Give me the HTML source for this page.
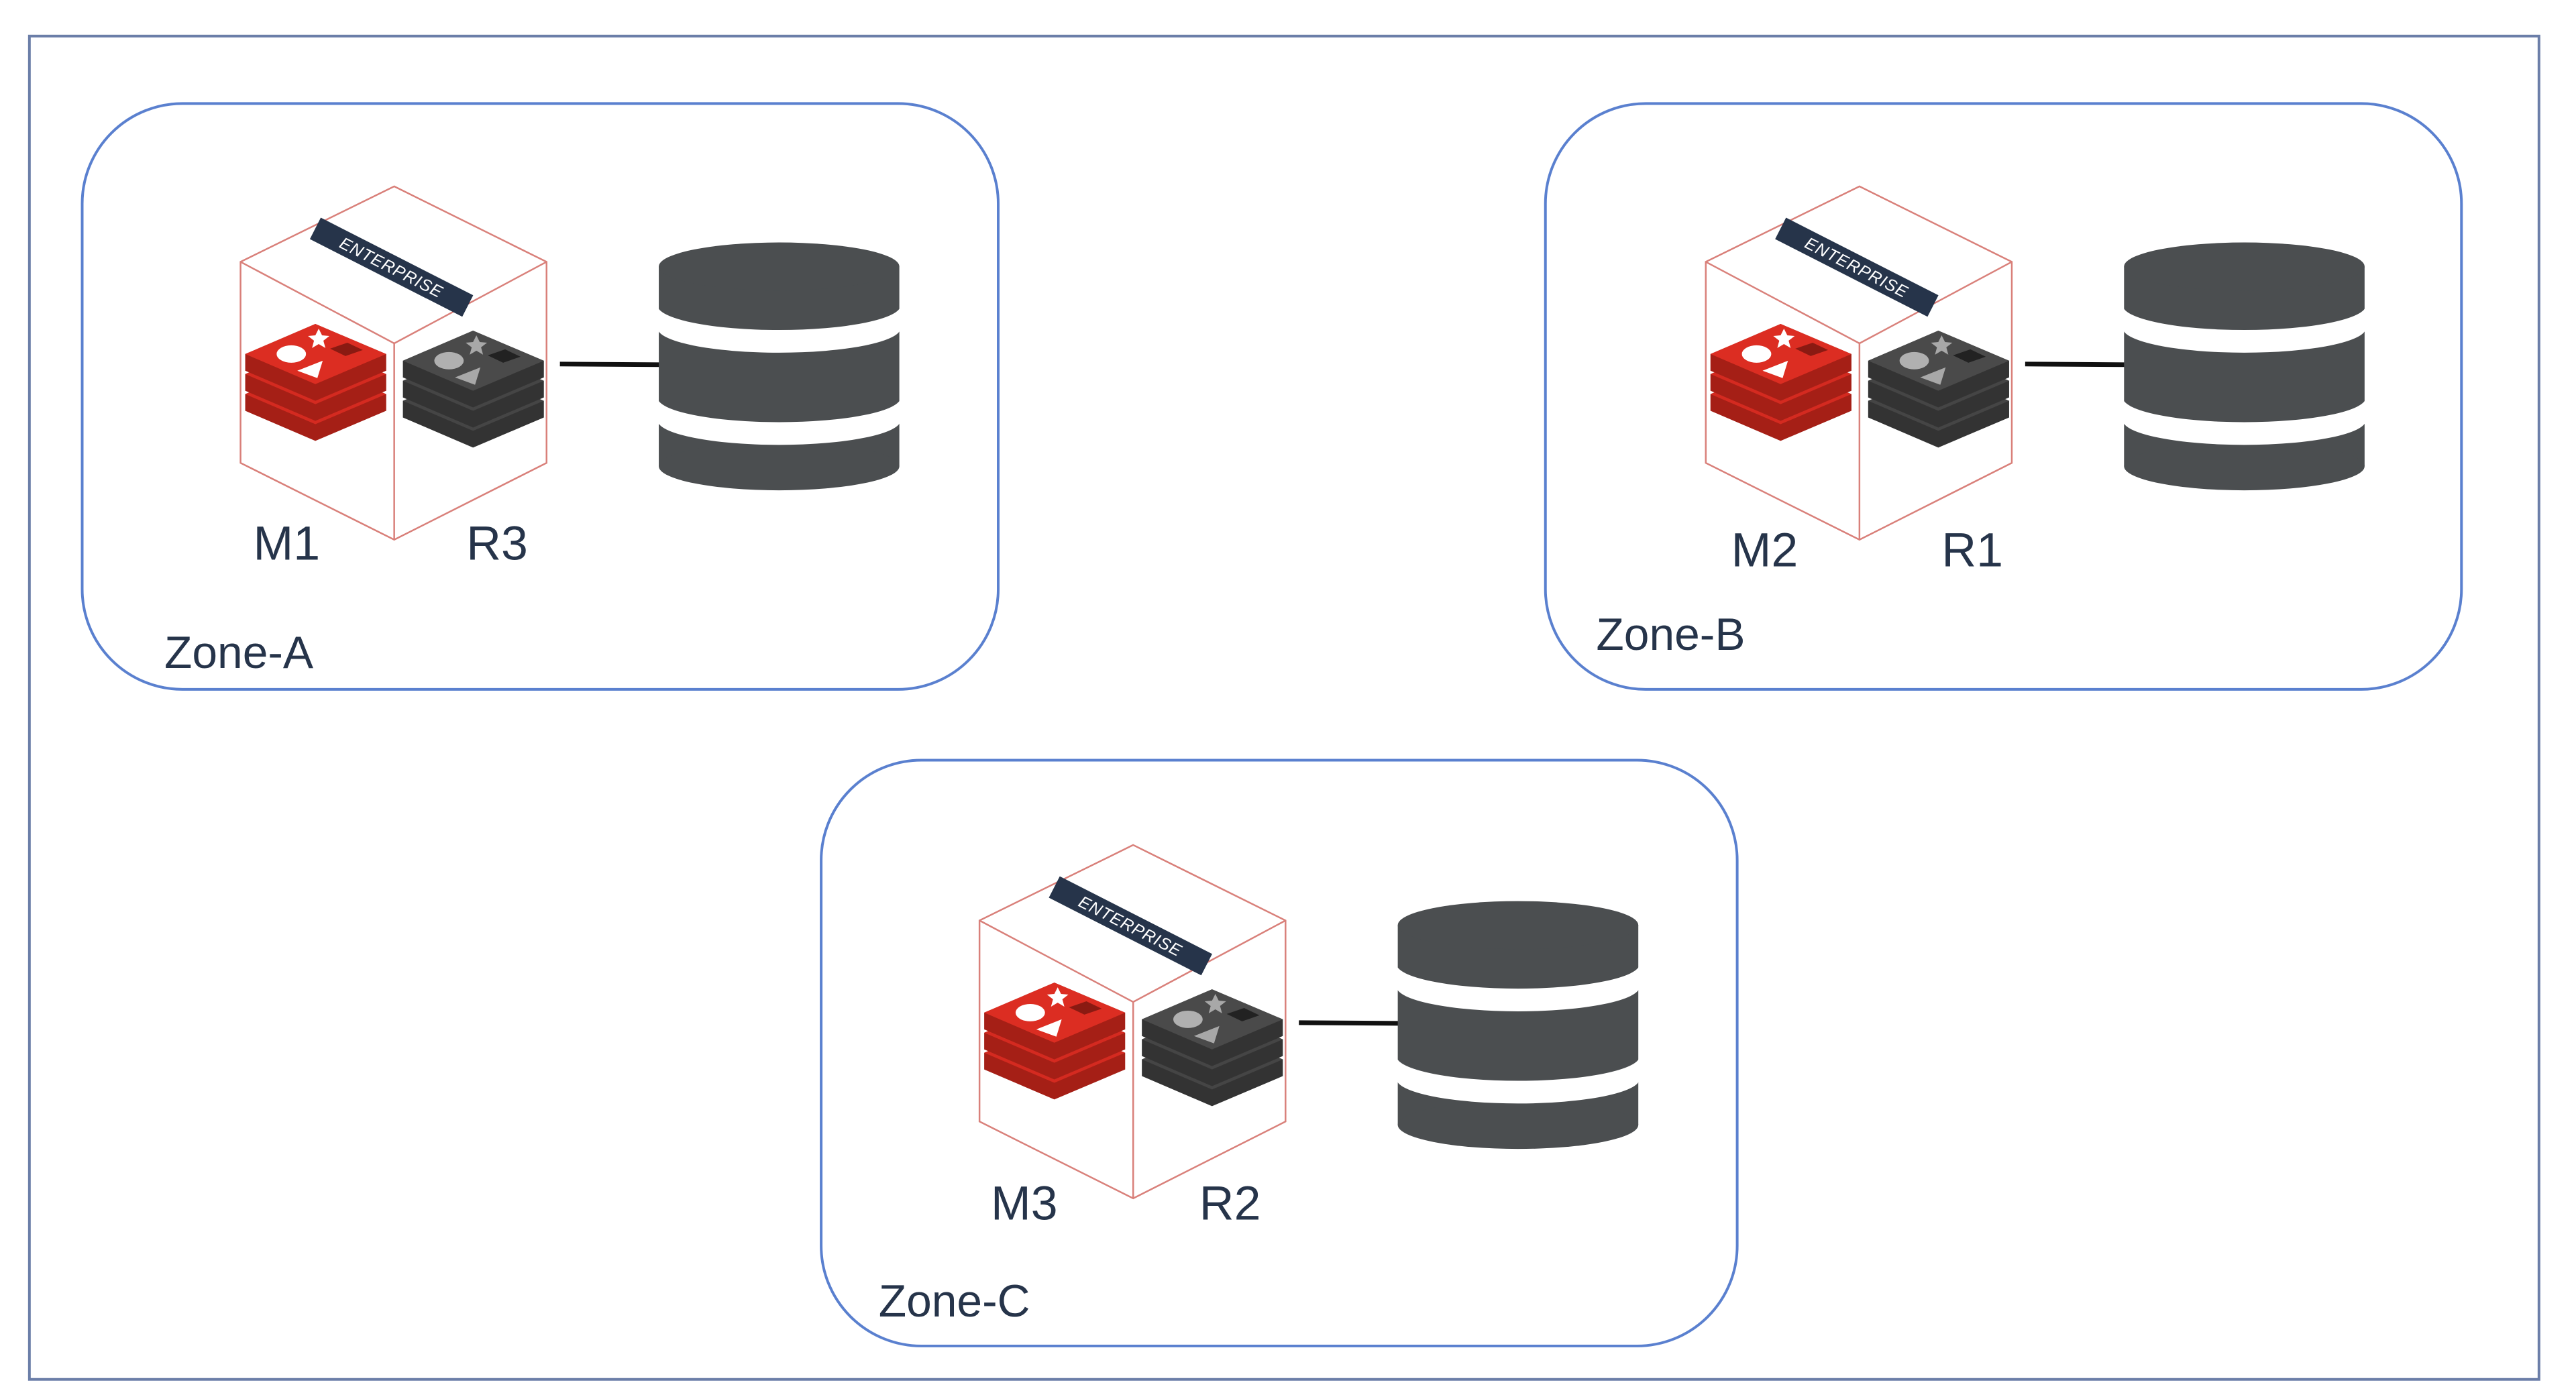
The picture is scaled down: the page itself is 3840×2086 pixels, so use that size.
<!DOCTYPE html>
<html><head><meta charset="utf-8"><style>
html,body{margin:0;padding:0;background:#fff;width:3840px;height:2086px;overflow:hidden}
text{font-family:"Liberation Sans",sans-serif}
</style></head><body>
<svg width="3840" height="2086" viewBox="0 0 3840 2086" xmlns="http://www.w3.org/2000/svg">
<defs>
<g id="redis-red">
  <path d="M367,590 L472,545 L578,590 L578,615 L472,660 L367,615 Z" fill="#a51f16"/>
  <path d="M367,590 L472,545 L578,590 L472,635 Z" fill="#d42a20"/>
  <path d="M367,560 L472,515 L578,560 L578,585 L472,630 L367,585 Z" fill="#a51f16"/>
  <path d="M367,560 L472,515 L578,560 L472,605 Z" fill="#d42a20"/>
  <path d="M367,530 L472,485 L578,530 L578,555 L472,600 L367,555 Z" fill="#a51f16"/>
  <path d="M367,530 L472,485 L578,530 L472,575 Z" fill="#dc2d22"/>
  <ellipse cx="436" cy="530" rx="22" ry="13" fill="#fff"/>
  <polygon points="477,492 482,502 493,503 484,510 487,521 477,515 467,521 470,510 461,503 472,502" fill="#fff"/>
  <polygon points="445,555 483,540 475,566" fill="#fff"/>
  <polygon points="494,522 520,513 543,524 517,533" fill="#8a1a12"/>
</g>
<g id="redis-gray">
  <path d="M603,600 L708,555 L814,600 L814,625 L708,670 L603,625 Z" fill="#333"/>
  <path d="M603,600 L708,555 L814,600 L708,645 Z" fill="#454545"/>
  <path d="M603,570 L708,525 L814,570 L814,595 L708,640 L603,595 Z" fill="#333"/>
  <path d="M603,570 L708,525 L814,570 L708,615 Z" fill="#454545"/>
  <path d="M603,540 L708,495 L814,540 L814,565 L708,610 L603,565 Z" fill="#333"/>
  <path d="M603,540 L708,495 L814,540 L708,585 Z" fill="#4a4a4a"/>
  <ellipse cx="672" cy="540" rx="22" ry="13" fill="#b0b0b0"/>
  <polygon points="713,502 718,512 729,513 720,520 723,531 713,525 703,531 706,520 697,513 708,512" fill="#a8a8a8"/>
  <polygon points="681,565 719,550 711,576" fill="#a8a8a8"/>
  <polygon points="730,532 756,523 779,534 753,543" fill="#222"/>
</g>
<g id="db">
  <rect x="986" y="399" width="360" height="299" fill="#4b4e50"/>
  <ellipse cx="1166" cy="399" rx="180" ry="36" fill="#4b4e50"/>
  <ellipse cx="1166" cy="698" rx="180" ry="36" fill="#4b4e50"/>
  <path d="M984,457 A182,37 0 0 0 1348,457 L1348,491 A182,37 0 0 1 984,491 Z" fill="#fff"/>
  <path d="M984,595 A182,37 0 0 0 1348,595 L1348,629 A182,37 0 0 1 984,629 Z" fill="#fff"/>
</g>
<g id="cube">
  <g fill="none" stroke="#d9807a" stroke-width="2.5">
    <polygon points="590,279 818,392 818,693 590,808 360,693 360,392"/>
    <polyline points="360,392 590,514 818,392"/>
    <line x1="590" y1="514" x2="590" y2="808"/>
  </g>
  <use href="#redis-red"/>
  <use href="#redis-gray"/>
  <line x1="838" y1="545" x2="990" y2="546" stroke="#111" stroke-width="7"/>
  <use href="#db"/>
  <g transform="translate(586,400) rotate(27)"><rect x="-128" y="-18" width="256" height="36" fill="#26344a"/><text x="0" y="9" font-size="25" fill="#fff" text-anchor="middle" font-style="italic" letter-spacing="1">ENTERPRISE</text></g>
</g>
</defs>
<g transform="scale(0.996)">
<rect x="44" y="54" width="3756" height="2011" fill="none" stroke="#6b7ea8" stroke-width="4"/>

<rect x="123" y="155" width="1371" height="877" rx="150" fill="none" stroke="#5a80cf" stroke-width="4"/>
<use href="#cube"/>
<text x="379" y="838" font-size="72" fill="#26344a">M1</text>
<text x="698" y="838" font-size="72" fill="#26344a">R3</text>
<text x="246" y="1000" font-size="68" fill="#26344a">Zone-A</text>

<rect x="2313" y="155" width="1371" height="877" rx="150" fill="none" stroke="#5a80cf" stroke-width="4"/>
<g transform="translate(2193,0)"><use href="#cube"/></g>
<text x="2591" y="848" font-size="72" fill="#26344a">M2</text>
<text x="2906" y="848" font-size="72" fill="#26344a">R1</text>
<text x="2389" y="973" font-size="68" fill="#26344a">Zone-B</text>

<rect x="1229" y="1138" width="1371" height="877" rx="150" fill="none" stroke="#5a80cf" stroke-width="4"/>
<g transform="translate(1106,986)"><use href="#cube"/></g>
<text x="1483" y="1826" font-size="72" fill="#26344a">M3</text>
<text x="1795" y="1826" font-size="72" fill="#26344a">R2</text>
<text x="1315" y="1971" font-size="68" fill="#26344a">Zone-C</text>
</g>
</svg>
</body></html>
